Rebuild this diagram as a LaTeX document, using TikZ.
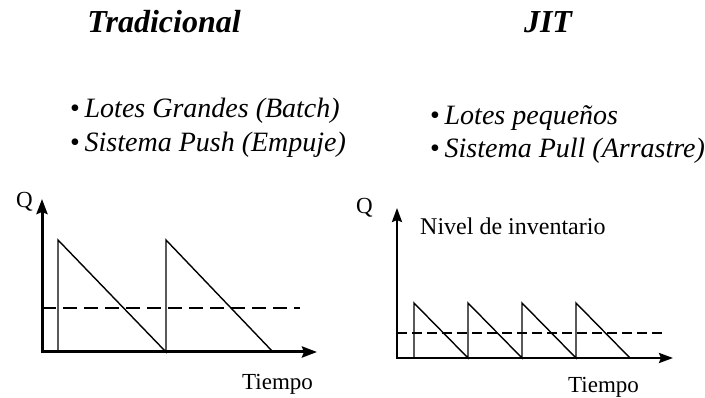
\documentclass[tikz,border=0pt]{standalone}
\usepackage{fontspec}
\setmainfont{Liberation Serif}
\usetikzlibrary{arrows.meta}
\begin{document}
\begin{tikzpicture}[x=1pt,y=-1pt,
  title/.style={font=\fontsize{32}{34}\selectfont\bfseries\itshape, anchor=base, inner sep=0pt},
  bullet/.style={font=\fontsize{28}{30}\selectfont, anchor=base west, inner sep=0pt},
  lbl/.style={font=\fontsize{23}{26}\selectfont, anchor=base west, inner sep=0pt},
  axis/.style={line width=3pt, -{Stealth[length=15pt,width=11pt,inset=2pt]}},
  axisb/.style={line width=2.5pt, -{Stealth[length=14pt,width=10pt,inset=2pt]}},
  saw/.style={line width=1.4pt, line join=miter},
  level/.style={line width=2pt, dash pattern=on 14pt off 7pt},
  levelb/.style={line width=1.6pt, dash pattern=on 10pt off 5pt}]
\useasboundingbox (0,0) rectangle (705,398);
% titles
\node[title] (t1) at (164,33) {Tradicional};
\node[title] (t2) at (548,33) {JIT};
% bullets
\node[bullet] (b1) at (70,118) {•\,\textit{Lotes Grandes (Batch)}};
\node[bullet] (b2) at (70,152) {•\,\textit{Sistema Push (Empuje)}};
\node[bullet] (b3) at (430,125) {•\,\textit{Lotes pequeños}};
\node[bullet] (b4) at (430,158) {•\,\textit{Sistema Pull (Arrastre)}};
% left chart
\coordinate (o1) at (42,352);
\coordinate (y1) at (42,199);
\coordinate (x1) at (317,352);
\node[lbl] (q1) at (16,208) {Q};
\node[lbl] (tm1) at (242,389) {Tiempo};
\draw[level] (42,308) -- (300,308);
\draw[saw] (58,352) -- (58,240) -- (166,352) -- (166,240) -- (273,352);
\draw[axis] (42,353.5) -- (y1);
\draw[axis] (40.5,352) -- (x1);
% right chart
\coordinate (o2) at (397,358);
\coordinate (y2) at (397,208);
\coordinate (x2) at (673,358);
\node[lbl] (q2) at (356,214) {Q};
\node[lbl, font=\fontsize{24}{27}\selectfont] (nv) at (420,235) {Nivel de inventario};
\node[lbl] (tm2) at (568,392) {Tiempo};
\draw[levelb] (397,333) -- (662,333);
\draw[saw] (414,358) -- (414,303) -- (468,358) -- (468,303) -- (522,358) -- (522,303) -- (576,358) -- (576,303) -- (630,358);
\draw[axisb] (397,359.2) -- (y2);
\draw[axisb] (395.8,358) -- (x2);
\end{tikzpicture}
\end{document}
